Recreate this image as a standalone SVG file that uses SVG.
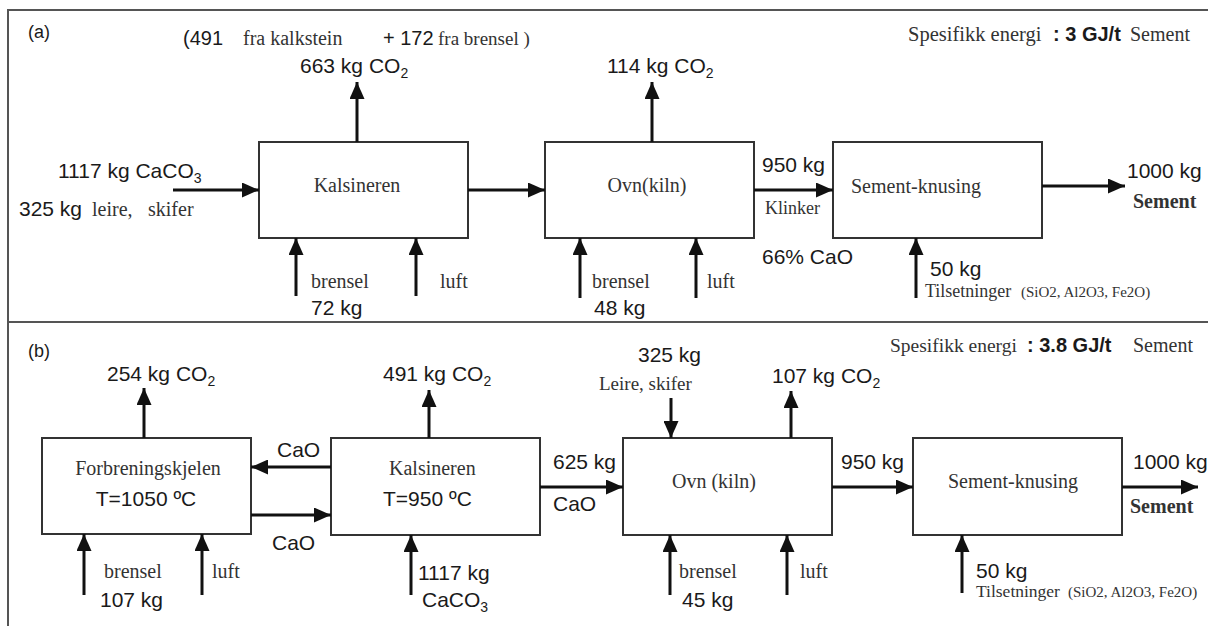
<svg xmlns="http://www.w3.org/2000/svg" width="1208" height="626" viewBox="0 0 1208 626">
<style>
.bg{fill:#ffffff}
.frame{fill:none;stroke:#555;stroke-width:2}
.box{fill:#ffffff;stroke:#333;stroke-width:2}
.arr{fill:none;stroke:#111;stroke-width:3;marker-end:url(#ah)}
.s{font-family:"Liberation Sans",Arial,sans-serif;font-size:21px;fill:#1a1a1a}
.sub{font-size:14px}
.r{font-family:"Liberation Serif","Times New Roman",serif;font-size:20px;fill:#333}
.rb{font-family:"Liberation Serif","Times New Roman",serif;font-size:20px;font-weight:bold;fill:#333}
.sb{font-family:"Liberation Sans",Arial,sans-serif;font-size:20px;font-weight:bold;fill:#1a1a1a}
.c{text-anchor:middle}
</style>
<defs>
<marker id="ah" markerUnits="userSpaceOnUse" markerWidth="17" markerHeight="15" refX="17" refY="7.5" orient="auto">
<path d="M0,0 L17,7.5 L0,15 z" fill="#111"/>
</marker>
</defs>
<rect class="bg" x="0" y="0" width="1208" height="626"/>
<g id="frame">
<path class="frame" d="M8,626 L8,10 L1208,10 M8,322 L1208,322"/>
</g>

<!-- Panel (a) -->
<g id="a-label"><text class="s" x="28" y="38" style="font-size:18px">(a)</text></g>
<g id="a-kalsineren">
<rect class="box" x="259" y="142" width="209" height="96"/>
<text class="r c" x="357" y="192">Kalsineren</text>
</g>
<g id="a-ovn">
<rect class="box" x="545" y="142" width="209" height="96"/>
<text class="r c" x="647" y="192">Ovn(kiln)</text>
</g>
<g id="a-sement">
<rect class="box" x="833" y="142" width="209" height="96"/>
<text class="r" x="851" y="193">Sement-knusing</text>
</g>
<g id="a-connectors">
<line class="arr" x1="173" y1="190" x2="259" y2="190"/>
<line class="arr" x1="357" y1="142" x2="357" y2="82"/>
<line class="arr" x1="296" y1="296" x2="296" y2="238"/>
<line class="arr" x1="416" y1="296" x2="416" y2="238"/>
<line class="arr" x1="468" y1="190" x2="545" y2="190"/>
<line class="arr" x1="652" y1="142" x2="652" y2="82"/>
<line class="arr" x1="580" y1="298" x2="580" y2="238"/>
<line class="arr" x1="696" y1="298" x2="696" y2="238"/>
<line class="arr" x1="754" y1="190" x2="833" y2="190"/>
<line class="arr" x1="1042" y1="186" x2="1125" y2="186"/>
<line class="arr" x1="916" y1="298" x2="916" y2="238"/>
</g>
<g id="a-texts">
<text class="s" x="183" y="45" style="font-size:20px">(491</text>
<text class="r" x="243" y="45">fra kalkstein</text>
<text class="s" x="383" y="45" style="font-size:20px">+ 172</text>
<text class="r" x="438" y="45" style="font-size:19px">fra brensel )</text>
<text class="s" x="300" y="73">663 kg CO<tspan class="sub" dy="5">2</tspan></text>
<text class="s" x="58" y="178">1117 kg CaCO<tspan class="sub" dy="5">3</tspan></text>
<text class="s" x="19" y="216">325 kg</text>
<text class="r" x="92" y="216">leire,</text>
<text class="r" x="148" y="216">skifer</text>
<text class="r" x="311" y="288">brensel</text>
<text class="s" x="311" y="315">72 kg</text>
<text class="r" x="440" y="288">luft</text>
<text class="s" x="607" y="73">114 kg CO<tspan class="sub" dy="5">2</tspan></text>
<text class="r" x="592" y="288">brensel</text>
<text class="s" x="594" y="315">48 kg</text>
<text class="r" x="707" y="288">luft</text>
<text class="s" x="762" y="172">950 kg</text>
<text class="r" x="765" y="214" style="font-size:18px">Klinker</text>
<text class="s" x="762" y="264">66% CaO</text>
<text class="s" x="1127" y="178">1000 kg</text>
<text class="rb" x="1133" y="208">Sement</text>
<text class="s" x="930" y="276">50 kg</text>
<text class="r" x="925" y="297" style="font-size:18px">Tilsetninger</text>
<text class="r" x="1021" y="297" style="font-size:15px">(SiO2, Al2O3, Fe2O)</text>
<text class="r" x="908" y="41" style="font-size:20.5px">Spesifikk energi</text>
<text class="sb" x="1053" y="41">: 3 GJ/t</text>
<text class="r" x="1130" y="41">Sement</text>
</g>

<!-- Panel (b) -->
<g id="b-label"><text class="s" x="28" y="357" style="font-size:18px">(b)</text></g>
<g id="b-forbrening">
<rect class="box" x="42" y="438" width="209" height="96"/>
<text class="r c" x="148" y="475">Forbreningskjelen</text>
<text class="s c" x="146" y="506">T=1050 ºC</text>
</g>
<g id="b-kalsineren">
<rect class="box" x="331" y="438" width="209" height="97"/>
<text class="r" x="389" y="475">Kalsineren</text>
<text class="s" x="383" y="506">T=950 ºC</text>
</g>
<g id="b-ovn">
<rect class="box" x="623" y="438" width="209" height="97"/>
<text class="r" x="672" y="488">Ovn (kiln)</text>
</g>
<g id="b-sement">
<rect class="box" x="913" y="438" width="209" height="97"/>
<text class="r" x="948" y="488">Sement-knusing</text>
</g>
<g id="b-connectors">
<line class="arr" x1="144" y1="438" x2="144" y2="388"/>
<line class="arr" x1="84" y1="595" x2="84" y2="534"/>
<line class="arr" x1="202" y1="595" x2="202" y2="534"/>
<line class="arr" x1="331" y1="467" x2="251" y2="467"/>
<line class="arr" x1="251" y1="515" x2="331" y2="515"/>
<line class="arr" x1="429" y1="438" x2="429" y2="390"/>
<line class="arr" x1="411" y1="595" x2="411" y2="535"/>
<line class="arr" x1="540" y1="487" x2="623" y2="487"/>
<line class="arr" x1="671" y1="398" x2="671" y2="438"/>
<line class="arr" x1="791" y1="438" x2="791" y2="391"/>
<line class="arr" x1="670" y1="595" x2="670" y2="535"/>
<line class="arr" x1="787" y1="595" x2="787" y2="535"/>
<line class="arr" x1="832" y1="487" x2="913" y2="487"/>
<line class="arr" x1="1122" y1="487" x2="1198" y2="487"/>
<line class="arr" x1="962" y1="593" x2="962" y2="535"/>
</g>
<g id="b-texts">
<text class="s" x="107" y="381">254 kg CO<tspan class="sub" dy="5">2</tspan></text>
<text class="s" x="277" y="457">CaO</text>
<text class="s" x="272" y="550">CaO</text>
<text class="r" x="104" y="578">brensel</text>
<text class="s" x="100" y="607">107 kg</text>
<text class="r" x="212" y="578">luft</text>
<text class="s" x="383" y="381">491 kg CO<tspan class="sub" dy="5">2</tspan></text>
<text class="s" x="418" y="580">1117 kg</text>
<text class="s" x="422" y="607">CaCO<tspan class="sub" dy="5">3</tspan></text>
<text class="s" x="553" y="469">625 kg</text>
<text class="s" x="553" y="511">CaO</text>
<text class="s" x="638" y="362">325 kg</text>
<text class="r" x="599" y="390" style="font-size:19px">Leire, skifer</text>
<text class="s" x="772" y="383">107 kg CO<tspan class="sub" dy="5">2</tspan></text>
<text class="r" x="679" y="578">brensel</text>
<text class="s" x="682" y="607">45 kg</text>
<text class="r" x="800" y="578">luft</text>
<text class="s" x="841" y="469">950 kg</text>
<text class="s" x="1133" y="469">1000 kg</text>
<text class="rb" x="1130" y="513">Sement</text>
<text class="s" x="976" y="578">50 kg</text>
<text class="r" x="976" y="597" style="font-size:17.5px">Tilsetninger</text>
<text class="r" x="1068" y="597" style="font-size:15px">(SiO2, Al2O3, Fe2O)</text>
<text class="r" x="890" y="352" style="font-size:19.5px">Spesifikk energi</text>
<text class="sb" x="1027" y="352">: 3.8 GJ/t</text>
<text class="r" x="1133" y="352">Sement</text>
</g>
</svg>
